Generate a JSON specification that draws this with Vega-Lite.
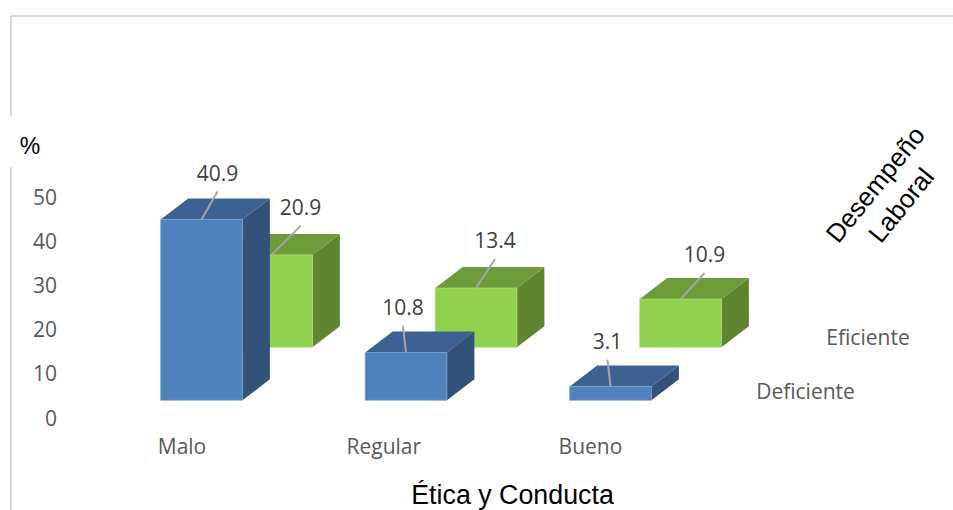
{
  "$schema": "https://vega.github.io/schema/vega-lite/v6.json",
  "width": 953,
  "height": 510,
  "padding": 0,
  "autosize": {"type": "none"},
  "background": "white",
  "config": {"view": {"stroke": null}},
  "data": {"values": [
    {"etica": "Malo", "desempeno": "Deficiente", "pct": 40.9},
    {"etica": "Regular", "desempeno": "Deficiente", "pct": 10.8},
    {"etica": "Bueno", "desempeno": "Deficiente", "pct": 3.1},
    {"etica": "Malo", "desempeno": "Eficiente", "pct": 20.9},
    {"etica": "Regular", "desempeno": "Eficiente", "pct": 13.4},
    {"etica": "Bueno", "desempeno": "Eficiente", "pct": 10.9}
  ]},
  "transform": [
    {"calculate": "datum.etica + '-' + datum.desempeno", "as": "clave"},
    {"calculate": "indexof(['Malo','Regular','Bueno'], datum.etica)", "as": "i"},
    {"calculate": "datum.desempeno === 'Eficiente' ? 1 : 0", "as": "s"},
    {"calculate": "datum.i + datum.s * 0.3423 - 0.0015", "as": "x0"},
    {"calculate": "datum.x0 + 0.3995", "as": "x1"},
    {"calculate": "4.01 + datum.s * 11.99", "as": "base"},
    {"calculate": "datum.base + datum.pct", "as": "cima"},
    {"calculate": "(datum.x0 + datum.x1) / 2", "as": "xc"},
    {"calculate": "({'Malo-Deficiente':0.078,'Malo-Eficiente':0.142,'Regular-Deficiente':-0.015,'Regular-Eficiente':0.093,'Bueno-Deficiente':-0.015,'Bueno-Eficiente':0.117})[datum.clave]", "as": "desvio"},
    {"calculate": "({'Malo-Deficiente':6.33,'Malo-Eficiente':6.56,'Regular-Deficiente':6.11,'Regular-Eficiente':6.56,'Bueno-Deficiente':6.11,'Bueno-Eficiente':5.88})[datum.clave]", "as": "alza"}
  ],
  "encoding": {
    "x": {
      "field": "xa",
      "type": "quantitative",
      "scale": {"domain": [-0.78729, 3.87286], "nice": false, "zero": false},
      "axis": {
        "values": [],
        "labels": false,
        "ticks": false,
        "domain": false,
        "grid": false,
        "title": "Ética y Conducta",
        "titleFont": "Liberation Sans",
        "titleFontSize": 26.8,
        "titleFontWeight": "normal",
        "titleColor": "#000000",
        "titleX": 512,
        "titleY": -15,
        "titleAlign": "center",
        "titleBaseline": "middle"
      }
    },
    "y": {
      "field": "ya",
      "type": "quantitative",
      "scale": {"domain": [-20.814, 94.57], "nice": false, "zero": false},
      "axis": {
        "values": [0, 10, 20, 30, 40, 50],
        "offset": -56.5,
        "labelPadding": 0,
        "labelOffset": 1,
        "labelFont": "Open Sans",
        "labelFontSize": 21,
        "labelColor": "#595959",
        "ticks": false,
        "domain": false,
        "grid": false,
        "title": "%",
        "titleFont": "Liberation Sans",
        "titleFontSize": 23,
        "titleFontWeight": "normal",
        "titleColor": "#000000",
        "titleAngle": 0,
        "titleX": -27,
        "titleY": 146,
        "titleAlign": "center",
        "titleBaseline": "middle"
      }
    }
  },
  "layer": [
    {
      "data": {"values": [{"tramo": "superior"}, {"tramo": "izquierdo alto"}, {"tramo": "izquierdo bajo"}]},
      "transform": [
        {"calculate": "-0.7335", "as": "xa"},
        {"calculate": "datum.tramo === 'superior' ? 3.87286 : -0.7335", "as": "xb"},
        {"calculate": "({'superior':90.95,'izquierdo alto':90.95,'izquierdo bajo':56.79})[datum.tramo]", "as": "ya"},
        {"calculate": "({'superior':90.95,'izquierdo alto':68.33,'izquierdo bajo':-20.814})[datum.tramo]", "as": "yb"}
      ],
      "mark": {"type": "rule", "color": "#d9d9d9", "strokeWidth": 2},
      "encoding": {"x2": {"field": "xb"}, "y2": {"field": "yb"}}
    },
    {
      "transform": [
        {"filter": "datum.s === 1"},
        {"calculate": "[0, 1]", "as": "paso"},
        {"flatten": ["paso"]},
        {"calculate": "datum.x1 + datum.paso * 0.1345", "as": "xa"},
        {"calculate": "datum.base + datum.paso * 4.751", "as": "ya"},
        {"calculate": "datum.cima + datum.paso * 4.751", "as": "yb"}
      ],
      "mark": {"type": "area", "orient": "vertical", "color": "#5f8530"},
      "encoding": {"y2": {"field": "yb"}, "detail": {"field": "clave"}}
    },
    {
      "transform": [
        {"filter": "datum.s === 1"},
        {"calculate": "[0, 1]", "as": "paso"},
        {"flatten": ["paso"]},
        {"calculate": "datum.x0 + datum.paso * 0.1345", "as": "xa"},
        {"calculate": "datum.x1 + datum.paso * 0.1345", "as": "xb"},
        {"calculate": "datum.cima + datum.paso * 4.751", "as": "ya"}
      ],
      "mark": {"type": "area", "orient": "horizontal", "color": "#6f9c3b"},
      "encoding": {"x2": {"field": "xb"}, "detail": {"field": "clave"}}
    },
    {
      "transform": [
        {"filter": "datum.s === 1"},
        {"calculate": "datum.x0", "as": "xa"},
        {"calculate": "datum.base", "as": "ya"}
      ],
      "mark": {"type": "rect", "color": "#92d050", "stroke": "#b0dd80", "strokeWidth": 0.75},
      "encoding": {"x2": {"field": "x1"}, "y2": {"field": "cima"}}
    },
    {
      "transform": [
        {"filter": "datum.s === 0"},
        {"calculate": "[0, 1]", "as": "paso"},
        {"flatten": ["paso"]},
        {"calculate": "datum.x1 + datum.paso * 0.1345", "as": "xa"},
        {"calculate": "datum.base + datum.paso * 4.751", "as": "ya"},
        {"calculate": "datum.cima + datum.paso * 4.751", "as": "yb"}
      ],
      "mark": {"type": "area", "orient": "vertical", "color": "#325279"},
      "encoding": {"y2": {"field": "yb"}, "detail": {"field": "clave"}}
    },
    {
      "transform": [
        {"filter": "datum.s === 0"},
        {"calculate": "[0, 1]", "as": "paso"},
        {"flatten": ["paso"]},
        {"calculate": "datum.x0 + datum.paso * 0.1345", "as": "xa"},
        {"calculate": "datum.x1 + datum.paso * 0.1345", "as": "xb"},
        {"calculate": "datum.cima + datum.paso * 4.751", "as": "ya"}
      ],
      "mark": {"type": "area", "orient": "horizontal", "color": "#3d6291"},
      "encoding": {"x2": {"field": "xb"}, "detail": {"field": "clave"}}
    },
    {
      "transform": [
        {"filter": "datum.s === 0"},
        {"calculate": "datum.x0", "as": "xa"},
        {"calculate": "datum.base", "as": "ya"}
      ],
      "mark": {"type": "rect", "color": "#4f81bd", "stroke": "#7ba0cf", "strokeWidth": 0.75},
      "encoding": {"x2": {"field": "x1"}, "y2": {"field": "cima"}}
    },
    {
      "transform": [
        {"calculate": "datum.xc", "as": "xa"},
        {"calculate": "datum.cima", "as": "ya"},
        {"calculate": "datum.xc + datum.desvio", "as": "xb"},
        {"calculate": "datum.cima + datum.alza", "as": "yb"}
      ],
      "mark": {"type": "rule", "color": "#a6a6a6", "strokeWidth": 2},
      "encoding": {"x2": {"field": "xb"}, "y2": {"field": "yb"}}
    },
    {
      "transform": [
        {"calculate": "datum.xc + datum.desvio", "as": "xa"},
        {"calculate": "datum.cima + datum.alza + 3.85", "as": "ya"}
      ],
      "mark": {"type": "text", "font": "Open Sans", "fontSize": 21, "color": "#404040", "align": "center", "baseline": "middle"},
      "encoding": {"text": {"field": "pct", "type": "quantitative", "format": ".1f"}}
    },
    {
      "data": {"values": [
        {"texto": "Malo"},
        {"texto": "Regular"},
        {"texto": "Bueno"},
        {"texto": "Eficiente"},
        {"texto": "Deficiente"}
      ]},
      "transform": [
        {"calculate": "({'Malo':0.1027,'Regular':1.0895,'Bueno':2.1,'Eficiente':3.4572,'Deficiente':3.1516})[datum.texto]", "as": "xa"},
        {"calculate": "({'Malo':-6.9,'Regular':-6.9,'Bueno':-6.9,'Eficiente':17.8,'Deficiente':5.65})[datum.texto]", "as": "ya"}
      ],
      "mark": {"type": "text", "font": "Open Sans", "fontSize": 21, "color": "#595959", "align": "center", "baseline": "middle"},
      "encoding": {"text": {"field": "texto", "type": "nominal"}}
    },
    {
      "data": {"values": [{"texto": "Desempeño\nLaboral"}]},
      "transform": [
        {"calculate": "3.4969", "as": "xa"},
        {"calculate": "52.7", "as": "ya"}
      ],
      "mark": {"type": "text", "font": "Liberation Sans", "fontSize": 26, "lineHeight": 33, "color": "#000000", "align": "center", "baseline": "middle", "angle": -51, "lineBreak": "\n"},
      "encoding": {"text": {"field": "texto", "type": "nominal"}}
    }
  ]
}
